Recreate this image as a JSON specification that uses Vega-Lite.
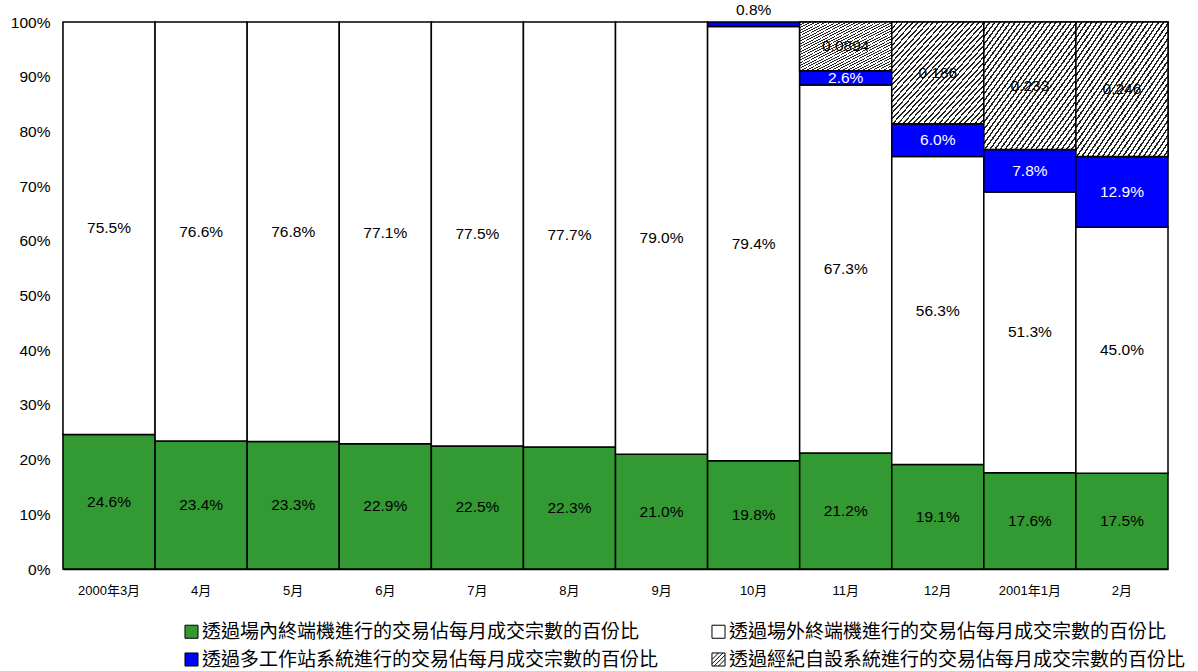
{
  "$schema": "https://vega.github.io/schema/vega-lite/v6.json",
  "width": 1105,
  "height": 547,
  "autosize": {"type": "none"},
  "padding": {"left": 63, "top": 22, "right": 30, "bottom": 102},
  "config": {"view": {"stroke": null}, "font": "Liberation Sans"},
  "data": {
    "values": [
      {"month": "2000年3月", "k": "g", "value": 0.246, "label": "24.6%"},
      {"month": "2000年3月", "k": "w", "value": 0.755, "label": "75.5%"},
      {"month": "4月", "k": "g", "value": 0.234, "label": "23.4%"},
      {"month": "4月", "k": "w", "value": 0.766, "label": "76.6%"},
      {"month": "5月", "k": "g", "value": 0.233, "label": "23.3%"},
      {"month": "5月", "k": "w", "value": 0.768, "label": "76.8%"},
      {"month": "6月", "k": "g", "value": 0.229, "label": "22.9%"},
      {"month": "6月", "k": "w", "value": 0.771, "label": "77.1%"},
      {"month": "7月", "k": "g", "value": 0.225, "label": "22.5%"},
      {"month": "7月", "k": "w", "value": 0.775, "label": "77.5%"},
      {"month": "8月", "k": "g", "value": 0.223, "label": "22.3%"},
      {"month": "8月", "k": "w", "value": 0.777, "label": "77.7%"},
      {"month": "9月", "k": "g", "value": 0.210, "label": "21.0%"},
      {"month": "9月", "k": "w", "value": 0.790, "label": "79.0%"},
      {"month": "10月", "k": "g", "value": 0.198, "label": "19.8%"},
      {"month": "10月", "k": "w", "value": 0.794, "label": "79.4%"},
      {"month": "10月", "k": "b", "value": 0.008, "label": "0.8%"},
      {"month": "11月", "k": "g", "value": 0.212, "label": "21.2%"},
      {"month": "11月", "k": "w", "value": 0.673, "label": "67.3%"},
      {"month": "11月", "k": "b", "value": 0.026, "label": "2.6%"},
      {"month": "11月", "k": "h", "value": 0.0894, "label": "0.0894"},
      {"month": "12月", "k": "g", "value": 0.191, "label": "19.1%"},
      {"month": "12月", "k": "w", "value": 0.563, "label": "56.3%"},
      {"month": "12月", "k": "b", "value": 0.060, "label": "6.0%"},
      {"month": "12月", "k": "h", "value": 0.186, "label": "0.186"},
      {"month": "2001年1月", "k": "g", "value": 0.176, "label": "17.6%"},
      {"month": "2001年1月", "k": "w", "value": 0.513, "label": "51.3%"},
      {"month": "2001年1月", "k": "b", "value": 0.078, "label": "7.8%"},
      {"month": "2001年1月", "k": "h", "value": 0.233, "label": "0.233"},
      {"month": "2月", "k": "g", "value": 0.175, "label": "17.5%"},
      {"month": "2月", "k": "w", "value": 0.450, "label": "45.0%"},
      {"month": "2月", "k": "b", "value": 0.129, "label": "12.9%"},
      {"month": "2月", "k": "h", "value": 0.246, "label": "0.246"}
    ]
  },
  "transform": [
    {"calculate": "{'g':'透過場內終端機進行的交易佔每月成交宗數的百份比','w':'透過場外終端機進行的交易佔每月成交宗數的百份比','b':'透過多工作站系統進行的交易佔每月成交宗數的百份比','h':'透過經紀自設系統進行的交易佔每月成交宗數的百份比'}[datum.k]", "as": "series"},
    {"calculate": "indexof(['g','w','b','h'], datum.k)", "as": "ord"},
    {"stack": "value", "groupby": ["month"], "sort": [{"field": "ord", "order": "ascending"}], "as": ["v0", "v1"]},
    {"calculate": "(datum.v0 + datum.v1) / 2", "as": "mid"}
  ],
  "encoding": {
    "x": {
      "field": "month",
      "type": "nominal",
      "sort": ["2000年3月", "4月", "5月", "6月", "7月", "8月", "9月", "10月", "11月", "12月", "2001年1月", "2月"],
      "scale": {"paddingInner": 0, "paddingOuter": 0},
      "axis": {"title": null, "labelAngle": 0, "ticks": false, "domainColor": "black", "domainWidth": 1.5, "labelFontSize": 13, "labelFont": "Liberation Sans, Noto Sans CJK TC", "labelColor": "black", "labelPadding": 15}
    }
  },
  "layer": [
    {
      "mark": {"type": "bar", "stroke": "black", "strokeWidth": 1.5},
      "encoding": {
        "y": {
          "field": "v0", "type": "quantitative",
          "scale": {"domain": [0, 1], "nice": false, "clamp": true},
          "axis": {"title": null, "values": [0, 0.1, 0.2, 0.3, 0.4, 0.5, 0.6, 0.7, 0.8, 0.9, 1], "format": ".0%", "grid": false, "domainColor": "black", "domainWidth": 1.5, "tickColor": "black", "tickSize": -5, "labelPadding": 18, "labelFontSize": 15.5, "labelColor": "black"}
        },
        "y2": {"field": "v1"},
        "color": {
          "field": "series", "type": "nominal",
          "scale": {
            "domain": ["透過場內終端機進行的交易佔每月成交宗數的百份比", "透過場外終端機進行的交易佔每月成交宗數的百份比", "透過多工作站系統進行的交易佔每月成交宗數的百份比", "透過經紀自設系統進行的交易佔每月成交宗數的百份比"],
            "range": ["#339933", "#ffffff", "#0000ff", "#ffffff"]
          },
          "legend": {
            "title": null, "orient": "none", "legendX": 119, "legendY": 600, "columns": 2, "direction": "horizontal",
            "labelFont": "Noto Sans CJK TC", "labelFontSize": 19, "labelLimit": 800, "labelColor": "black", "labelOffset": 1,
            "symbolType": "square", "symbolSize": 170, "symbolStrokeColor": "black", "symbolStrokeWidth": 1, "symbolOpacity": 1,
            "rowPadding": 8, "columnPadding": 50,
            "encode": {
              "symbols": {
                "update": {
                  "stroke": {"value": "black"},
                  "strokeWidth": {"value": 1},
                  "shape": [
                    {"test": "datum.value === '透過經紀自設系統進行的交易佔每月成交宗數的百份比'", "value": "M-1,-1H1V1H-1Z M-1,0L0,-1 M-1,0.67L0.67,-1 M-0.67,1L1,-0.67 M0,1L1,0"},
                    {"value": "square"}
                  ]
                }
              }
            }
          }
        }
      }
    },
    {
      "transform": [{"filter": "datum.k === 'h'"}],
      "mark": {
        "type": "bar", "stroke": "black", "strokeWidth": 1.5,
        "fill": {"gradient": "linear", "x1": 0, "y1": 0, "x2": 1, "y2": 1, "stops": [
          {"offset": 0, "color": "#222"}, {"offset": 0.0097, "color": "#222"}, {"offset": 0.0097, "color": "#fff"}, {"offset": 0.0278, "color": "#fff"},
          {"offset": 0.0278, "color": "#222"}, {"offset": 0.0375, "color": "#222"}, {"offset": 0.0375, "color": "#fff"}, {"offset": 0.0556, "color": "#fff"},
          {"offset": 0.0556, "color": "#222"}, {"offset": 0.0653, "color": "#222"}, {"offset": 0.0653, "color": "#fff"}, {"offset": 0.0833, "color": "#fff"},
          {"offset": 0.0833, "color": "#222"}, {"offset": 0.0931, "color": "#222"}, {"offset": 0.0931, "color": "#fff"}, {"offset": 0.1111, "color": "#fff"},
          {"offset": 0.1111, "color": "#222"}, {"offset": 0.1208, "color": "#222"}, {"offset": 0.1208, "color": "#fff"}, {"offset": 0.1389, "color": "#fff"},
          {"offset": 0.1389, "color": "#222"}, {"offset": 0.1486, "color": "#222"}, {"offset": 0.1486, "color": "#fff"}, {"offset": 0.1667, "color": "#fff"},
          {"offset": 0.1667, "color": "#222"}, {"offset": 0.1764, "color": "#222"}, {"offset": 0.1764, "color": "#fff"}, {"offset": 0.1944, "color": "#fff"},
          {"offset": 0.1944, "color": "#222"}, {"offset": 0.2042, "color": "#222"}, {"offset": 0.2042, "color": "#fff"}, {"offset": 0.2222, "color": "#fff"},
          {"offset": 0.2222, "color": "#222"}, {"offset": 0.2319, "color": "#222"}, {"offset": 0.2319, "color": "#fff"}, {"offset": 0.25, "color": "#fff"},
          {"offset": 0.25, "color": "#222"}, {"offset": 0.2597, "color": "#222"}, {"offset": 0.2597, "color": "#fff"}, {"offset": 0.2778, "color": "#fff"},
          {"offset": 0.2778, "color": "#222"}, {"offset": 0.2875, "color": "#222"}, {"offset": 0.2875, "color": "#fff"}, {"offset": 0.3056, "color": "#fff"},
          {"offset": 0.3056, "color": "#222"}, {"offset": 0.3153, "color": "#222"}, {"offset": 0.3153, "color": "#fff"}, {"offset": 0.3333, "color": "#fff"},
          {"offset": 0.3333, "color": "#222"}, {"offset": 0.3431, "color": "#222"}, {"offset": 0.3431, "color": "#fff"}, {"offset": 0.3611, "color": "#fff"},
          {"offset": 0.3611, "color": "#222"}, {"offset": 0.3708, "color": "#222"}, {"offset": 0.3708, "color": "#fff"}, {"offset": 0.3889, "color": "#fff"},
          {"offset": 0.3889, "color": "#222"}, {"offset": 0.3986, "color": "#222"}, {"offset": 0.3986, "color": "#fff"}, {"offset": 0.4167, "color": "#fff"},
          {"offset": 0.4167, "color": "#222"}, {"offset": 0.4264, "color": "#222"}, {"offset": 0.4264, "color": "#fff"}, {"offset": 0.4444, "color": "#fff"},
          {"offset": 0.4444, "color": "#222"}, {"offset": 0.4542, "color": "#222"}, {"offset": 0.4542, "color": "#fff"}, {"offset": 0.4722, "color": "#fff"},
          {"offset": 0.4722, "color": "#222"}, {"offset": 0.4819, "color": "#222"}, {"offset": 0.4819, "color": "#fff"}, {"offset": 0.5, "color": "#fff"},
          {"offset": 0.5, "color": "#222"}, {"offset": 0.5097, "color": "#222"}, {"offset": 0.5097, "color": "#fff"}, {"offset": 0.5278, "color": "#fff"},
          {"offset": 0.5278, "color": "#222"}, {"offset": 0.5375, "color": "#222"}, {"offset": 0.5375, "color": "#fff"}, {"offset": 0.5556, "color": "#fff"},
          {"offset": 0.5556, "color": "#222"}, {"offset": 0.5653, "color": "#222"}, {"offset": 0.5653, "color": "#fff"}, {"offset": 0.5833, "color": "#fff"},
          {"offset": 0.5833, "color": "#222"}, {"offset": 0.5931, "color": "#222"}, {"offset": 0.5931, "color": "#fff"}, {"offset": 0.6111, "color": "#fff"},
          {"offset": 0.6111, "color": "#222"}, {"offset": 0.6208, "color": "#222"}, {"offset": 0.6208, "color": "#fff"}, {"offset": 0.6389, "color": "#fff"},
          {"offset": 0.6389, "color": "#222"}, {"offset": 0.6486, "color": "#222"}, {"offset": 0.6486, "color": "#fff"}, {"offset": 0.6667, "color": "#fff"},
          {"offset": 0.6667, "color": "#222"}, {"offset": 0.6764, "color": "#222"}, {"offset": 0.6764, "color": "#fff"}, {"offset": 0.6944, "color": "#fff"},
          {"offset": 0.6944, "color": "#222"}, {"offset": 0.7042, "color": "#222"}, {"offset": 0.7042, "color": "#fff"}, {"offset": 0.7222, "color": "#fff"},
          {"offset": 0.7222, "color": "#222"}, {"offset": 0.7319, "color": "#222"}, {"offset": 0.7319, "color": "#fff"}, {"offset": 0.75, "color": "#fff"},
          {"offset": 0.75, "color": "#222"}, {"offset": 0.7597, "color": "#222"}, {"offset": 0.7597, "color": "#fff"}, {"offset": 0.7778, "color": "#fff"},
          {"offset": 0.7778, "color": "#222"}, {"offset": 0.7875, "color": "#222"}, {"offset": 0.7875, "color": "#fff"}, {"offset": 0.8056, "color": "#fff"},
          {"offset": 0.8056, "color": "#222"}, {"offset": 0.8153, "color": "#222"}, {"offset": 0.8153, "color": "#fff"}, {"offset": 0.8333, "color": "#fff"},
          {"offset": 0.8333, "color": "#222"}, {"offset": 0.8431, "color": "#222"}, {"offset": 0.8431, "color": "#fff"}, {"offset": 0.8611, "color": "#fff"},
          {"offset": 0.8611, "color": "#222"}, {"offset": 0.8708, "color": "#222"}, {"offset": 0.8708, "color": "#fff"}, {"offset": 0.8889, "color": "#fff"},
          {"offset": 0.8889, "color": "#222"}, {"offset": 0.8986, "color": "#222"}, {"offset": 0.8986, "color": "#fff"}, {"offset": 0.9167, "color": "#fff"},
          {"offset": 0.9167, "color": "#222"}, {"offset": 0.9264, "color": "#222"}, {"offset": 0.9264, "color": "#fff"}, {"offset": 0.9444, "color": "#fff"},
          {"offset": 0.9444, "color": "#222"}, {"offset": 0.9542, "color": "#222"}, {"offset": 0.9542, "color": "#fff"}, {"offset": 0.9722, "color": "#fff"},
          {"offset": 0.9722, "color": "#222"}, {"offset": 0.9819, "color": "#222"}, {"offset": 0.9819, "color": "#fff"}, {"offset": 1, "color": "#fff"}
        ]}
      },
      "encoding": {
        "y": {"field": "v0", "type": "quantitative"},
        "y2": {"field": "v1"}
      }
    },
    {
      "transform": [{"filter": "!(datum.k === 'b' && datum.month === '10月')"}],
      "mark": {"type": "text", "fontSize": 15.5, "baseline": "middle", "align": "center"},
      "encoding": {
        "y": {"field": "mid", "type": "quantitative"},
        "text": {"field": "label", "type": "nominal"},
        "color": {"condition": {"test": "datum.k === 'b'", "value": "white"}, "value": "black"}
      }
    },
    {
      "transform": [{"filter": "datum.k === 'b' && datum.month === '10月'"}],
      "mark": {"type": "text", "fontSize": 15.5, "baseline": "middle", "align": "center", "dy": -12, "color": "black"},
      "encoding": {
        "y": {"field": "v1", "type": "quantitative"},
        "text": {"field": "label", "type": "nominal"}
      }
    }
  ]
}
